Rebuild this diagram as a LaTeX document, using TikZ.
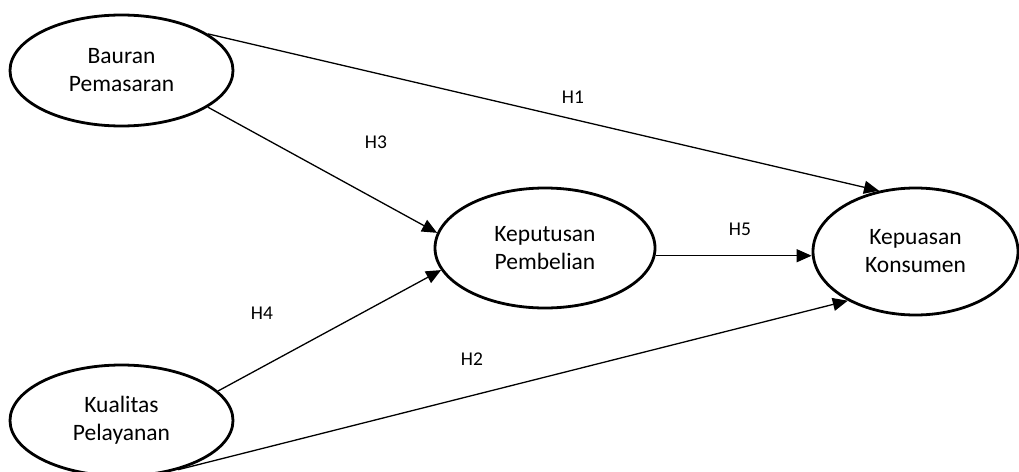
\documentclass[tikz,border=0pt]{standalone}
\usepackage{fontspec}
\setmainfont{Carlito}
\usetikzlibrary{arrows.meta,shapes.geometric}

\tikzset{
  var/.style={draw, ellipse, line width=2.8pt, align=center, inner sep=0pt,
    font=\fontsize{23.5}{28}\selectfont},
  hyp/.style={font=\fontsize{19.5}{22}\selectfont},
  link/.style={line width=1.3pt, -{Triangle[length=15pt,width=13pt]}}
}

\begin{document}
\begin{tikzpicture}[x=1pt, y=-1pt]
\useasboundingbox (0,0) rectangle (1019,471);
\clip (0,0) rectangle (1019,471);

\node[var, minimum width=223pt, minimum height=111pt] (bauran) at (121.5,70.5) {Bauran\\Pemasaran};
\node[var, minimum width=223pt, minimum height=111pt] (kualitas) at (121.5,420.5) {Kualitas\\Pelayanan};
\node[var, minimum width=220pt, minimum height=120pt] (keputusan) at (545,248) {Keputusan\\Pembelian};
\node[var, minimum width=205pt, minimum height=127pt] (kepuasan) at (915.5,251.5) {Kepuasan\\Konsumen};

\draw[link] (bauran.23) -- (kepuasan.121);
\draw[link] (bauran.-23) -- (keputusan.172);
\draw[link] (kualitas.17.7) -- (keputusan.-168.8);
\draw[link] (kualitas.-41) -- (kepuasan.216);
\draw[link] (keputusan.-4.7) -- (kepuasan.west |- keputusan.-4.7);

\node[hyp] (h1) at (573,97) {H1};
\node[hyp] (h3) at (376,142) {H3};
\node[hyp] (h4) at (262,313) {H4};
\node[hyp] (h2) at (472,359) {H2};
\node[hyp] (h5) at (740,229) {H5};
\end{tikzpicture}
\end{document}
